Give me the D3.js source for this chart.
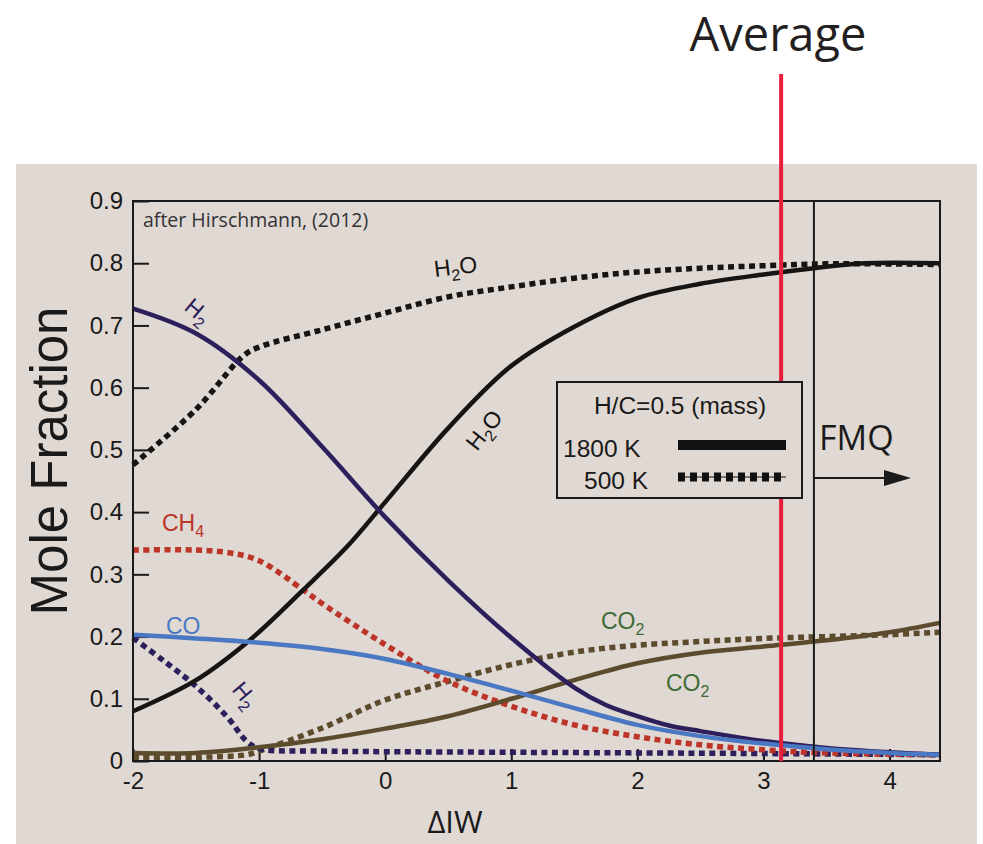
<!DOCTYPE html>
<html>
<head>
<meta charset="utf-8">
<script src="https://cdn.jsdelivr.net/npm/d3@7"></script>
<style>
  html, body { margin: 0; padding: 0; background: #ffffff; }
  svg { display: block; }
</style>
</head>
<body>
<svg id="chart" width="983" height="844"></svg>
<script>
// Gas speciation vs. oxygen fugacity (ΔIW), H/C = 0.5 by mass

const xTicks = [-2, -1, 0, 1, 2, 3, 4];
const yTicks = [0, 0.1, 0.2, 0.3, 0.4, 0.5, 0.6, 0.7, 0.8, 0.9];
const yTickLabels = ["0", "0.1", "0.2", "0.3", "0.4", "0.5", "0.6", "0.7", "0.8", "0.9"];

const averageIW = 3.14;   // red marker
const fmqIW = 3.4;        // FMQ buffer

// 1800 K (solid)
const h2o1800 = [[-2,0.08],[-1.5,0.13],[-1.07,0.195],[-0.65,0.275],[-0.3,0.345],[0,0.416],[0.5,0.535],[1,0.635],[1.5,0.698],[2,0.744],[2.5,0.767],[3,0.782],[3.4,0.792],[3.8,0.8],[4.4,0.8]];
const h21800 = [[-2,0.727],[-1.5,0.687],[-1,0.612],[-0.5,0.505],[0,0.392],[0.5,0.29],[1,0.198],[1.5,0.118],[1.75,0.09],[2,0.072],[2.25,0.057],[2.5,0.048],[3,0.032],[3.5,0.021],[4,0.014],[4.4,0.01]];
const co1800 = [[-2,0.203],[-1.5,0.197],[-1,0.19],[-0.5,0.18],[0,0.164],[0.5,0.14],[1,0.113],[1.5,0.085],[2,0.058],[2.5,0.04],[3,0.028],[3.5,0.019],[4,0.013],[4.4,0.01]];
const co21800 = [[-2,0.013],[-1.5,0.013],[-1,0.022],[-0.5,0.035],[0,0.052],[0.5,0.072],[1,0.1],[1.5,0.13],[2,0.157],[2.5,0.174],[3,0.184],[3.5,0.194],[4,0.207],[4.4,0.222]];

// 500 K (dotted)
const h2o500 = [[-2,0.476],[-1.5,0.565],[-1.12,0.652],[-0.99,0.666],[-0.5,0.693],[0,0.72],[0.5,0.746],[1,0.762],[1.5,0.776],[2,0.786],[2.5,0.792],[3,0.796],[3.5,0.799],[4.4,0.798]];
const ch4500 = [[-2,0.339],[-1.5,0.339],[-1.25,0.335],[-1,0.322],[-0.65,0.275],[-0.5,0.253],[0,0.187],[0.5,0.128],[1,0.088],[1.5,0.058],[2,0.039],[2.5,0.026],[3,0.018],[3.5,0.013],[4.4,0.01]];
const h2500 = [[-2,0.198],[-1.75,0.16],[-1.5,0.12],[-1.25,0.07],[-1.1,0.032],[-1,0.02],[-0.5,0.016],[0,0.015],[1,0.014],[2,0.013],[3,0.012],[4.4,0.01]];
const co2500 = [[-2,0.006],[-1.5,0.006],[-1.1,0.01],[-1,0.016],[-0.5,0.053],[0,0.098],[0.5,0.128],[1,0.155],[1.5,0.175],[2,0.186],[2.5,0.192],[3,0.197],[3.5,0.2],[4,0.203],[4.4,0.207]];

const C = {
  panel: "#dfd8d3",
  h2o: "#161513",
  h2: "#2d1f5c",
  co: "#4a78c2",
  co2: "#5c4b2c",
  ch4: "#bd3429",
  co2Label: "#3f6b34",
  avg: "#e81f3c"
};

const svg = d3.select("#chart");
const plot = { left: 133, right: 940, top: 201, bottom: 761 };

const x = d3.scaleLinear().domain([-2, 4.4]).range([plot.left, plot.right]);
const y = d3.scaleLinear().domain([0, 0.9]).range([plot.bottom, plot.top]);

// panel background
svg.append("rect").attr("x", 16).attr("y", 164).attr("width", 961).attr("height", 680).attr("fill", C.panel);

const sans = "'Liberation Sans', Arial, Helvetica, sans-serif";
const humanist = "'Open Sans', 'Noto Sans', sans-serif";

// axes
const yAxis = d3.axisLeft(y).tickValues(yTicks).tickSize(-16).tickPadding(10)
  .tickFormat((d, i) => yTickLabels[i]);
const gy = svg.append("g").attr("transform", `translate(${plot.left},0)`).call(yAxis);
const xAxis = d3.axisBottom(x).tickValues(xTicks).tickSize(-12).tickPadding(9).tickFormat(d3.format("d"));
const gx = svg.append("g").attr("transform", `translate(0,${plot.bottom})`).call(xAxis);
[gx, gy].forEach(g => {
  g.select(".domain").remove();
  g.selectAll(".tick line").attr("stroke", "#1a1a1a").attr("stroke-width", 2);
  g.selectAll(".tick text").attr("fill", "#1a1a1a").style("font-family", sans).style("font-size", "24px");
});
gx.selectAll(".tick text").attr("dy", "0.8em").text(d => d < 0 ? "-" + Math.abs(d) : d);

// curves
const line = d3.line().x(d => x(d[0])).y(d => y(d[1])).curve(d3.curveCatmullRom.alpha(0.5));
const curves = svg.append("g");
function solid(data, color) {
  curves.append("path").datum(data).attr("d", line).attr("fill", "none")
    .attr("stroke", color).attr("stroke-width", 4.5).attr("stroke-linejoin", "round");
}
function dotted(data, color) {
  curves.append("path").datum(data).attr("d", line).attr("fill", "none")
    .attr("stroke", color).attr("stroke-width", 5.5).attr("stroke-dasharray", "6 4.5");
}
dotted(co2500, C.co2);
dotted(h2500, C.h2);
dotted(ch4500, C.ch4);
dotted(h2o500, C.h2o);
solid(co21800, C.co2);
solid(h2o1800, C.h2o);
solid(h21800, C.h2);
solid(co1800, C.co);

// frame and FMQ divider
svg.append("rect").attr("x", plot.left).attr("y", plot.top)
  .attr("width", plot.right - plot.left).attr("height", plot.bottom - plot.top)
  .attr("fill", "none").attr("stroke", "#1a1a1a").attr("stroke-width", 2);
svg.append("line").attr("x1", x(fmqIW)).attr("x2", x(fmqIW)).attr("y1", plot.top).attr("y2", plot.bottom)
  .attr("stroke", "#1a1a1a").attr("stroke-width", 2);

// average marker
svg.append("line").attr("x1", x(averageIW)).attr("x2", x(averageIW)).attr("y1", 74).attr("y2", plot.bottom)
  .attr("stroke", C.avg).attr("stroke-width", 4);
svg.append("text").attr("x", 778).attr("y", 51).attr("text-anchor", "middle")
  .style("font-family", humanist).style("font-size", "47px").attr("fill", "#231f20").text("Average");

// legend
const lg = svg.append("g");
lg.append("rect").attr("x", 557).attr("y", 382).attr("width", 245).attr("height", 116)
  .attr("fill", C.panel).attr("stroke", "#1a1a1a").attr("stroke-width", 2);
lg.append("text").attr("x", 680).attr("y", 414).attr("text-anchor", "middle")
  .style("font-family", sans).style("font-size", "24.5px").attr("fill", "#1a1a1a").text("H/C=0.5 (mass)");
lg.append("text").attr("x", 563).attr("y", 457)
  .style("font-family", sans).style("font-size", "24.5px").attr("fill", "#1a1a1a").text("1800 K");
lg.append("text").attr("x", 584).attr("y", 489)
  .style("font-family", sans).style("font-size", "24.5px").attr("fill", "#1a1a1a").text("500 K");
lg.append("line").attr("x1", 678).attr("x2", 786).attr("y1", 445).attr("y2", 445)
  .attr("stroke", "#111").attr("stroke-width", 10);
lg.append("line").attr("x1", 678).attr("x2", 786).attr("y1", 477).attr("y2", 477)
  .attr("stroke", "#111").attr("stroke-width", 1.2);
lg.append("line").attr("x1", 678).attr("x2", 786).attr("y1", 477).attr("y2", 477)
  .attr("stroke", "#111").attr("stroke-width", 9).attr("stroke-dasharray", "7 5");

// FMQ arrow
svg.append("text").attr("x", 819).attr("y", 450)
  .style("font-family", humanist).style("font-size", "34px").attr("fill", "#1a1a1a").text("FMQ");
svg.append("line").attr("x1", x(fmqIW)).attr("x2", 890).attr("y1", 478).attr("y2", 478)
  .attr("stroke", "#1a1a1a").attr("stroke-width", 2);
svg.append("path").attr("d", "M884,470 L911,478 L884,486 Z").attr("fill", "#1a1a1a");

// citation
svg.append("text").attr("x", 143).attr("y", 227)
  .style("font-family", humanist).style("font-size", "19.5px").attr("fill", "#333").text("after Hirschmann, (2012)");

// axis titles
svg.append("text").attr("transform", "translate(67,461) rotate(-90)").attr("text-anchor", "middle")
  .style("font-family", sans).style("font-size", "51px").attr("fill", "#1a1a1a").text("Mole Fraction");
svg.append("text").attr("x", 455).attr("y", 833).attr("text-anchor", "middle")
  .style("font-family", humanist).style("font-size", "31px").attr("fill", "#1a1a1a").text("ΔIW");

// species labels with subscripts
function species(parts, px, py, rot, color) {
  const t = svg.append("text")
    .attr("transform", `translate(${px},${py}) rotate(${rot})`)
    .style("font-family", sans).style("font-size", "23px").attr("fill", color);
  parts.forEach(p => {
    if (p.sub) {
      t.append("tspan").attr("dy", 6).style("font-size", "16px").text(p.s);
    } else {
      t.append("tspan").attr("dy", p.back ? -6 : 0).text(p.s);
    }
  });
  return t;
}
species([{s: "H"}, {s: "2", sub: true}], 183, 309, 40, C.h2);
species([{s: "H"}, {s: "2", sub: true}, {s: "O", back: true}], 435, 277, -7, C.h2o);
species([{s: "H"}, {s: "2", sub: true}, {s: "O", back: true}], 477, 452, -52, C.h2o);
species([{s: "CH"}, {s: "4", sub: true}], 162, 531, 0, C.ch4);
species([{s: "CO"}], 166, 634, 0, C.co);
species([{s: "H"}, {s: "2", sub: true}], 231, 690, 50, C.h2);
species([{s: "CO"}, {s: "2", sub: true}], 601, 629, 0, C.co2Label);
species([{s: "CO"}, {s: "2", sub: true}], 666, 691, 0, C.co2Label);
</script>
</body>
</html>
